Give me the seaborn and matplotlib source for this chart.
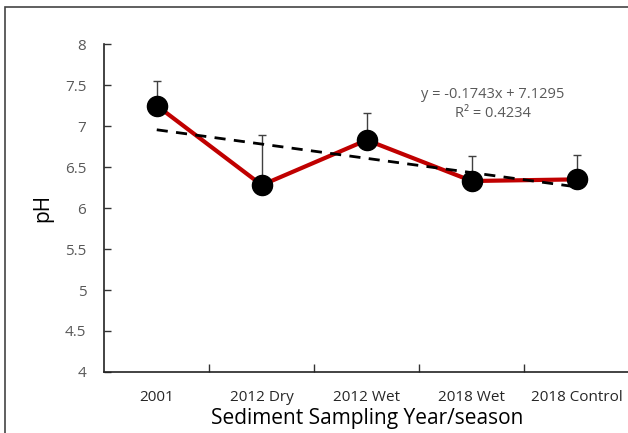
import matplotlib
matplotlib.use("Agg")
import matplotlib.pyplot as plt
import seaborn as sns
import numpy as np
import pandas as pd

categories = ["2001", "2012 Dry", "2012 Wet", "2018 Wet", "2018 Control"]
ph_mean = [7.25, 6.28, 6.83, 6.33, 6.35]
ph_err_up = [0.30, 0.61, 0.33, 0.30, 0.30]
trend_slope = -0.1743
trend_intercept = 7.1295
trend_r2 = 0.4234
yticks = [4, 4.5, 5, 5.5, 6, 6.5, 7, 7.5, 8]

sns.set_theme(style="white")
plt.rcParams['font.family'] = ['Open Sans', 'DejaVu Sans']

df = pd.DataFrame({"pos": np.arange(len(categories)), "ph": ph_mean, "cat": categories})

fig = plt.figure(figsize=(6.28, 4.33), dpi=100)
ax = fig.add_axes([0.166, 0.141, 0.836, 0.757])

# Frame around figure
fig.patches.append(plt.Rectangle((0.008, -0.01), 1.1, 0.994, transform=fig.transFigure,
                                 fill=False, edgecolor="#444444", lw=1.2))

ax.errorbar(df["pos"], df["ph"], yerr=[np.zeros(len(ph_err_up)), ph_err_up], fmt="none",
            ecolor="#404040", elinewidth=1.0, capsize=3, capthick=1.0, zorder=2)
sns.lineplot(data=df, x="pos", y="ph", color="#C00000", lw=3.0, ax=ax, zorder=3)
ax.scatter(df["pos"], df["ph"], s=210, color="black", zorder=4)

xs = np.arange(1, len(categories) + 1)
trend = trend_slope * xs + trend_intercept
sns.lineplot(x=xs - 1, y=trend, color="black", lw=2.0, ax=ax, linestyle=(0, (4, 3)), zorder=5)

ax.text(3.2, 7.27, f"y = {trend_slope}x + {trend_intercept}\nR² = {trend_r2}", ha="center", va="center",
        fontsize=10.5, color="#595959", linespacing=1.3)

ax.set_xlim(-0.5, len(categories) - 0.5)
ax.set_ylim(4, 8)
ax.set_yticks(yticks)
ax.set_yticklabels([f"{t:g}" for t in yticks], color="#595959", fontsize=11)
ax.set_xticks(np.arange(len(categories)))
ax.set_xticklabels(categories, fontsize=11, color="#262626")
ax.set_xticks(np.arange(len(categories) - 1) + 0.5, minor=True)
ax.tick_params(axis="x", which="major", length=0, pad=13)
ax.tick_params(axis="x", which="minor", direction="in", length=6, width=1, color="#333333", bottom=True)
ax.tick_params(axis="y", direction="in", length=5, width=1, color="#333333", left=True, pad=13)
for lbl in ax.get_yticklabels():
    lbl.set_horizontalalignment("right")

ax.set_xlabel("Sediment Sampling Year/season", fontsize=15, color="black", labelpad=2)
ax.set_ylabel("pH", fontsize=15, color="black", labelpad=8)

for s in ["top", "right"]:
    ax.spines[s].set_visible(False)
for s in ["left", "bottom"]:
    ax.spines[s].set_color("#222222")
    ax.spines[s].set_linewidth(1.2)

fig.savefig("out.png", dpi=100)
